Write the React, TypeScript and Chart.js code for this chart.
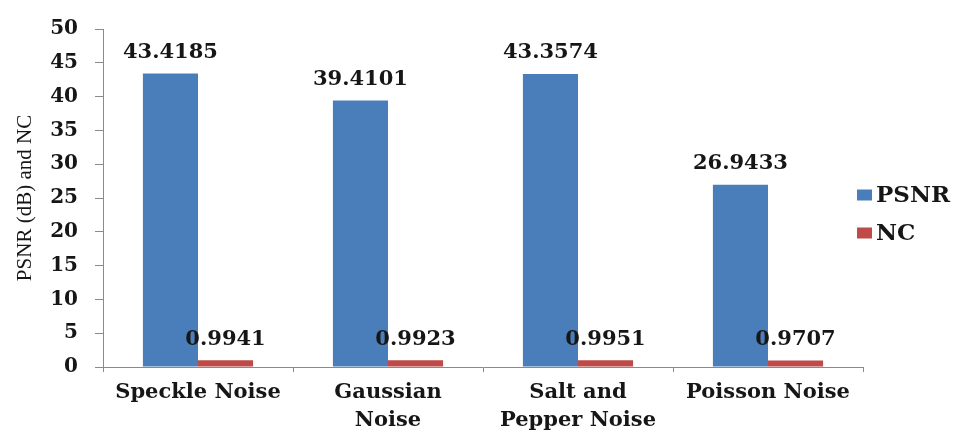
import React, { useEffect, useRef } from "react";
import { Chart, registerables } from "chart.js";

Chart.register(...registerables);

// Noise types on the x axis (multi-line labels are arrays)
const categories: (string | string[])[] = [
  "Speckle Noise",
  ["Gaussian", "Noise"],
  ["Salt and", "Pepper Noise"],
  "Poisson Noise",
];

// Series values
const psnrValues = [43.4185, 39.4101, 43.3574, 26.9433];
const ncValues = [0.9941, 0.9923, 0.9951, 0.9707];

// Y axis range
const yMin = 0;
const yMax = 50;
const yStep = 5;

const BLUE = "#4a7ebb";
const RED = "#be4b48";
const AXIS = "#8a8a8a";
const TEXT = "#161616";
const BOLD_SERIF = "'DejaVu Serif', serif";

// Value labels above every bar
const valueLabels = {
  id: "valueLabels",
  afterDatasetsDraw(chart: Chart) {
    const ctx = chart.ctx;
    ctx.save();
    ctx.font = `bold 21px ${BOLD_SERIF}`;
    ctx.fillStyle = TEXT;
    ctx.textAlign = "center";
    ctx.textBaseline = "middle";
    chart.data.datasets.forEach((ds, di) => {
      const meta = chart.getDatasetMeta(di);
      meta.data.forEach((el: any, i: number) => {
        const v = ds.data[i] as number;
        ctx.fillText(v.toFixed(4), el.x, el.y - 21);
      });
    });
    ctx.restore();
  },
};

// Legend at the right of the plot
const sideLegend = {
  id: "sideLegend",
  afterDraw(chart: Chart) {
    const ctx = chart.ctx;
    ctx.save();
    ctx.font = `bold 23px ${BOLD_SERIF}`;
    ctx.textAlign = "left";
    ctx.textBaseline = "middle";
    const x0 = chart.chartArea.right - 6;
    const yStart = 195;
    const rowGap = 38;
    chart.data.datasets.forEach((ds, di) => {
      const y = yStart + di * rowGap;
      ctx.fillStyle = ds.backgroundColor as string;
      ctx.fillRect(x0, y - 5.5, 15, 11);
      ctx.fillStyle = TEXT;
      ctx.fillText(ds.label as string, x0 + 19, y + 1);
    });
    ctx.restore();
  },
};

export default function App() {
  const canvasRef = useRef<HTMLCanvasElement | null>(null);

  useEffect(() => {
    if (!canvasRef.current) return;
    const chart = new Chart(canvasRef.current, {
      type: "bar",
      data: {
        labels: categories,
        datasets: [
          {
            label: "PSNR",
            data: psnrValues,
            backgroundColor: BLUE,
            categoryPercentage: 0.58,
            barPercentage: 1,
          },
          {
            label: "NC",
            data: ncValues,
            backgroundColor: RED,
            categoryPercentage: 0.58,
            barPercentage: 1,
          },
        ],
      },
      options: {
        animation: false,
        responsive: true,
        maintainAspectRatio: false,
        layout: { padding: { left: 0, right: 97, top: 23, bottom: 0 } },
        plugins: {
          legend: { display: false },
          tooltip: { enabled: false },
          title: { display: false },
        },
        scales: {
          x: {
            afterFit: (scale: any) => {
              scale.height = 63;
            },
            grid: {
              display: true,
              offset: true,
              drawOnChartArea: false,
              drawTicks: true,
              tickLength: 5,
              color: AXIS,
            },
            border: { display: true, color: AXIS, width: 1 },
            ticks: {
              color: TEXT,
              padding: 6,
              maxRotation: 0,
              autoSkip: false,
              font: { family: BOLD_SERIF, size: 21, weight: "bold", lineHeight: 1.36 },
            },
          },
          y: {
            min: yMin,
            max: yMax,
            afterFit: (scale: any) => {
              scale.width = 103;
            },
            grid: {
              display: true,
              drawOnChartArea: false,
              drawTicks: true,
              tickLength: 8,
              color: AXIS,
            },
            border: { display: true, color: AXIS, width: 1 },
            ticks: {
              stepSize: yStep,
              color: TEXT,
              padding: 17,
              font: { family: BOLD_SERIF, size: 20, weight: "bold" },
            },
            title: {
              display: true,
              text: "PSNR (dB) and NC",
              color: TEXT,
              padding: { top: 13, bottom: 0 },
              font: { family: "'Liberation Serif', 'Times New Roman', serif", size: 21, weight: "normal" },
            },
          },
        },
      },
      plugins: [valueLabels, sideLegend],
    });
    return () => chart.destroy();
  }, []);

  return (
    <div
      style={{
        position: "fixed",
        left: 0,
        top: 0,
        width: 960,
        height: 430,
        background: "#ffffff",
      }}
    >
      <canvas ref={canvasRef} style={{ width: "100%", height: "100%" }} />
    </div>
  );
}
